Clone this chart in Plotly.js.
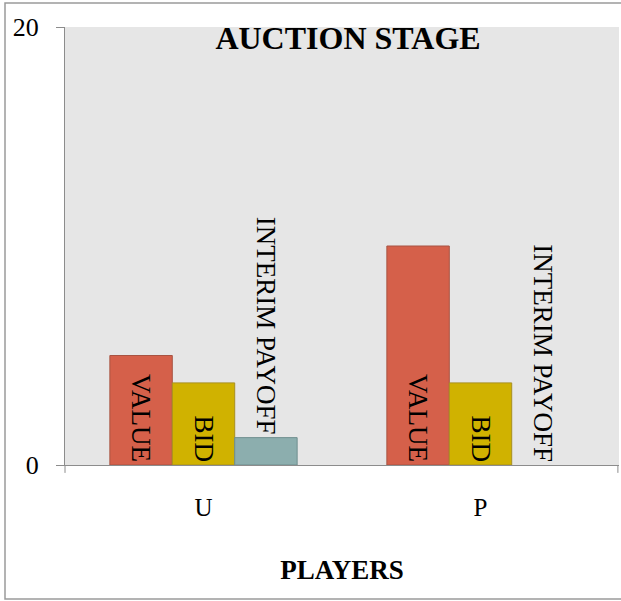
<!DOCTYPE html>
<html>
<head>
<meta charset="utf-8">
<script src="https://cdn.plot.ly/plotly-3.0.1.min.js"></script>
<style>
html,body{margin:0;padding:0;background:#fff;}
#chart{width:621px;height:601px;}
</style>
</head>
<body>
<div id="chart"></div>
<script>
// Data
var players = ['U', 'P'];
var valueVals = [5, 10];
var bidVals = [3.75, 3.75];
var payoffVals = [1.25, 0];
var valueLabels = ['VALUE', 'VALUE'];
var bidLabels = ['BID', 'BID'];
var payoffLabels = ['INTERIM PAYOFF', 'INTERIM PAYOFF'];
var yTickVals = [0, 20];
var yTickText = ['0', '20'];

var serif = "'Liberation Serif', 'Times New Roman', serif";
var barText = {family: serif, size: 27, color: '#000'};

var traces = [
  {type: 'bar', name: 'VALUE', x: players, y: valueVals, text: valueLabels,
   textposition: 'inside', insidetextanchor: 'start', textangle: 90,
   textfont: barText, constraintext: 'none', cliponaxis: false,
   marker: {color: '#D5604A', line: {color: '#A85342', width: 1}}, hoverinfo: 'x+y'},
  {type: 'bar', name: 'BID', x: players, y: bidVals, text: bidLabels,
   textposition: 'inside', insidetextanchor: 'start', textangle: 90,
   textfont: barText, constraintext: 'none', cliponaxis: false,
   marker: {color: '#D0B200', line: {color: '#A89020', width: 1}}, hoverinfo: 'x+y'},
  {type: 'bar', name: 'INTERIM PAYOFF', x: players, y: payoffVals, text: payoffLabels,
   textposition: 'outside', textangle: 90,
   textfont: barText, constraintext: 'none', cliponaxis: false,
   marker: {color: '#8CAEAE', line: {color: '#6E8E8E', width: [1, 0]}}, hoverinfo: 'x+y'}
];

var layout = {
  width: 621, height: 601,
  margin: {l: 65, r: 2, t: 27, b: 136, pad: 0},
  paper_bgcolor: '#ffffff',
  plot_bgcolor: '#E6E6E6',
  showlegend: false,
  barmode: 'group',
  bargap: 0.324,
  bargroupgap: 0,
  font: {family: serif, color: '#000'},
  title: {text: '<b>AUCTION STAGE</b>', font: {family: serif, size: 32, color: '#000'},
          xref: 'container', x: 348/621, xanchor: 'center',
          yref: 'container', y: 1 - 38/601, yanchor: 'middle'},
  xaxis: {
    type: 'category',
    showline: true, linecolor: '#8C8C8C', linewidth: 1,
    ticks: '', ticklabelstandoff: 20,
    tickfont: {family: serif, size: 25, color: '#000'},
    showgrid: false, zeroline: false,
    title: {text: '<b>PLAYERS</b>', font: {family: serif, size: 27, color: '#000'}, standoff: 40}
  },
  yaxis: {
    range: [0, 20],
    tickvals: yTickVals, ticktext: yTickText,
    ticks: 'outside', ticklen: 8, tickcolor: '#8C8C8C',
    showline: true, linecolor: '#8C8C8C', linewidth: 1,
    showgrid: false, zeroline: false,
    ticklabelstandoff: 12,
    tickfont: {family: serif, size: 26, color: '#000'}
  },
  shapes: [
    {type: 'rect', xref: 'paper', yref: 'paper', x0: -0.1083, x1: 1.02, y0: -0.306, y1: 1.0548,
     line: {color: '#9A9A9A', width: 1.5}, fillcolor: 'rgba(0,0,0,0)', layer: 'below'},
    {type: 'line', xref: 'paper', yref: 'paper', x0: 0, x1: 0, y0: 0, y1: -0.018,
     line: {color: '#8C8C8C', width: 1}},
    {type: 'line', xref: 'paper', yref: 'paper', x0: 0.998, x1: 0.998, y0: 0, y1: -0.018,
     line: {color: '#8C8C8C', width: 1}}
  ]
};

Plotly.newPlot('chart', traces, layout, {displayModeBar: false, staticPlot: true});
</script>
</body>
</html>
